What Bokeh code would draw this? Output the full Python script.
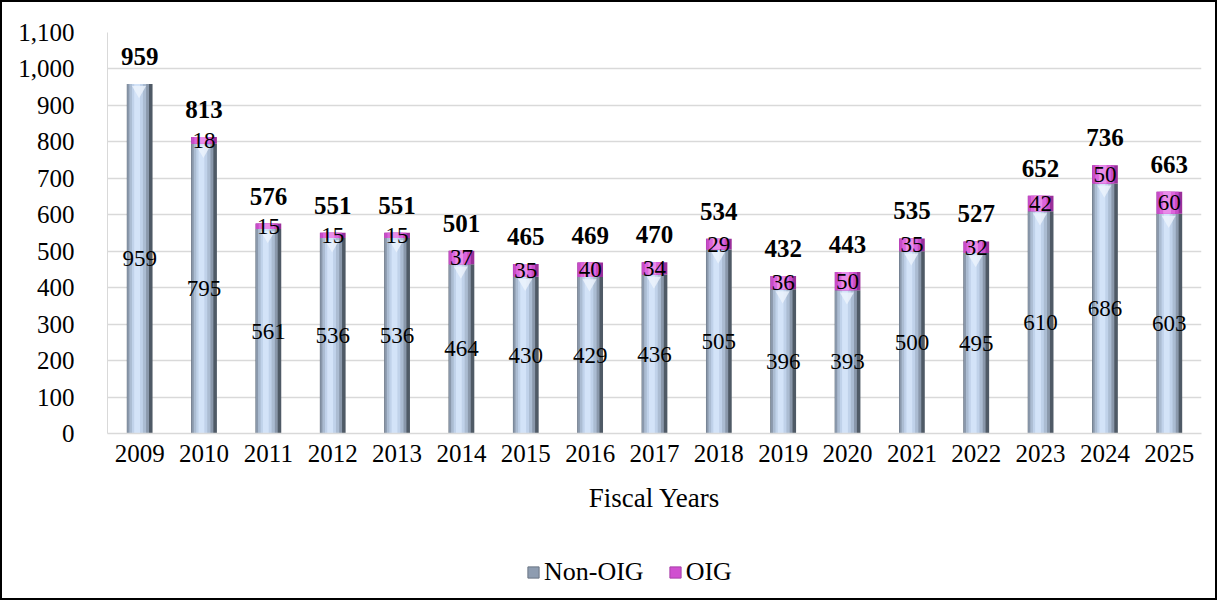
from bokeh.plotting import figure
from bokeh.layouts import column
from bokeh.models import (ColumnDataSource, NumeralTickFormatter, Legend, LegendItem,
                          FixedTicker, LabelSet, Range1d)
from bokeh.transform import dodge
from bokeh.core.properties import value
from bokeh.embed import file_html
from bokeh.resources import INLINE

years = ["2009", "2010", "2011", "2012", "2013", "2014", "2015", "2016", "2017",
         "2018", "2019", "2020", "2021", "2022", "2023", "2024", "2025"]
non_oig = [959, 795, 561, 536, 536, 464, 430, 429, 436, 505, 396, 393, 500, 495, 610, 686, 603]
oig = [0, 18, 15, 15, 15, 37, 35, 40, 34, 29, 36, 50, 35, 32, 42, 50, 60]
totals = [959, 813, 576, 551, 551, 501, 465, 469, 470, 534, 432, 443, 535, 527, 652, 736, 663]

FONT = "Liberation Serif"

src = ColumnDataSource(dict(
    years=years,
    non_oig=non_oig,
    oig=oig,
    total=[a + b for a, b in zip(non_oig, oig)],
    totals=totals,
    non_mid=[a / 2 for a in non_oig],
    oig_mid=[a + b / 2 for a, b in zip(non_oig, oig)],
    non_lbl=[str(v) for v in non_oig],
    oig_lbl=[str(v) if v > 0 else "" for v in oig],
    tot_lbl=[str(v) for v in totals],
))

W = 1213
p = figure(x_range=years, y_range=(0, 1100), width=W, height=525,
           output_backend="svg", toolbar_location=None,
           min_border_left=105, min_border_right=14, min_border_top=30, min_border_bottom=94)
p.outline_line_color = None
p.background_fill_color = "white"

p.xgrid.grid_line_color = None
p.ygrid.grid_line_color = "#d9d9d9"
p.ygrid.grid_line_width = 1.3

p.yaxis.ticker = FixedTicker(ticks=list(range(0, 1101, 100)))
p.yaxis.formatter = NumeralTickFormatter(format="0,0")
p.yaxis.axis_line_color = "#d9d9d9"
p.yaxis.major_tick_line_color = None
p.yaxis.minor_tick_line_color = None
p.yaxis.major_label_standoff = 27
p.yaxis.major_label_text_font = FONT
p.yaxis.major_label_text_font_size = "25px"
p.yaxis.major_label_text_color = "black"

p.xaxis.axis_line_color = "#d9d9d9"
p.xaxis.axis_line_width = 1.3
p.xaxis.major_tick_line_color = None
p.xaxis.minor_tick_line_color = None
p.xaxis.major_label_standoff = 5
p.xaxis.major_label_text_font = FONT
p.xaxis.major_label_text_font_size = "25px"
p.xaxis.major_label_text_color = "black"
p.xaxis.axis_label = "Fiscal Years"
p.xaxis.axis_label_text_font = FONT
p.xaxis.axis_label_text_font_size = "27px"
p.xaxis.axis_label_text_font_style = "normal"
p.xaxis.axis_label_text_color = "black"
p.xaxis.axis_label_standoff = 18

x_range = p.x_range
BW = 0.40

blue_layers = [
    (BW, 0.0, "#4f5a66"),
    (0.34, -0.025, "#8a98ab"),
    (0.26, -0.03, "#abbcd2"),
    (0.17, -0.035, "#c0d2ea"),
    (0.09, -0.04, "#d3e3f8"),
]
pink_layers = [
    (BW, 0.0, "#9a2f9a"),
    (0.34, -0.025, "#c84cc8"),
    (0.24, -0.03, "#dc64dc"),
    (0.12, -0.035, "#e98ce9"),
]

for w, off, col in blue_layers:
    p.vbar(x=dodge("years", off, range=x_range), top="non_oig", bottom=0, width=w,
           source=src, fill_color=col, line_color=None)

# bevel highlight at the top of each Non-OIG cylinder
p.scatter(x=dodge("years", -0.01, range=x_range), y=dodge("non_oig", -17), source=src,
          marker="inverted_triangle", size=14, fill_color="#eef4fc", fill_alpha=0.8,
          line_color=None)

for w, off, col in pink_layers:
    p.vbar(x=dodge("years", off, range=x_range), top="total", bottom="non_oig", width=w,
           source=src, fill_color=col, line_color=None)

p.add_layout(LabelSet(x="years", y="non_mid", text="non_lbl", source=src,
                      text_align="center", text_baseline="middle",
                      text_font=value(FONT), text_font_size="23px", text_color="black"))
p.add_layout(LabelSet(x="years", y="oig_mid", text="oig_lbl", source=src,
                      text_align="center", text_baseline="middle",
                      text_font=value(FONT), text_font_size="23px", text_color="black"))
p.add_layout(LabelSet(x="years", y="total", text="tot_lbl", source=src,
                      text_align="center", text_baseline="bottom", y_offset=19,
                      text_font=value(FONT), text_font_size="25px", text_font_style="bold",
                      text_color="black"))

# legend strip
lg = figure(width=W, height=71, x_range=Range1d(0, 1), y_range=Range1d(0, 1),
            output_backend="svg", toolbar_location=None,
            x_axis_location=None, y_axis_location=None,
            min_border_left=0, min_border_right=0, min_border_top=0, min_border_bottom=0)
lg.outline_line_color = None
lg.grid.grid_line_color = None
leg_non = lg.quad(left=[-5], right=[-4], bottom=[-5], top=[-4],
                  fill_color="#8e9cb0", line_color="#6a7584", line_width=1)
leg_oig = lg.quad(left=[-5], right=[-4], bottom=[-5], top=[-4],
                  fill_color="#d050d0", line_color="#a840a8", line_width=1)
legend = Legend(items=[LegendItem(label="Non-OIG", renderers=[leg_non]),
                       LegendItem(label="OIG", renderers=[leg_oig])],
                orientation="horizontal", location=(419, 11),
                label_text_font=FONT, label_text_font_size="26px", label_text_color="black",
                glyph_width=14, glyph_height=14, spacing=24, label_standoff=4,
                border_line_color=None, background_fill_alpha=0, margin=0, padding=2)
lg.add_layout(legend)

layout = column(p, lg, spacing=0, styles={"border": "2px solid black"})

open("out.html", "w").write(file_html(layout, INLINE))
